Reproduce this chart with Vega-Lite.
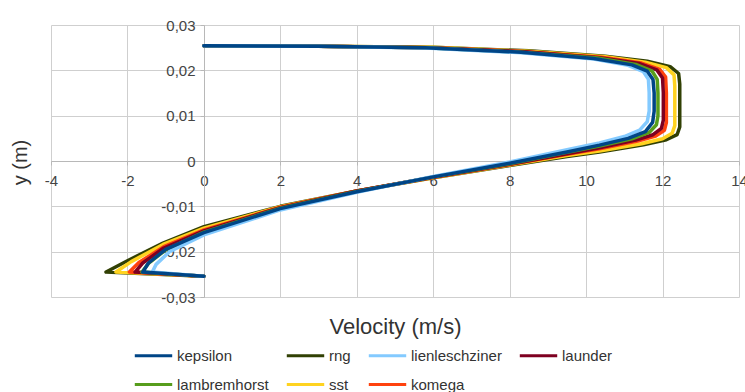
{
  "$schema": "https://vega.github.io/schema/vega-lite/v6.json",
  "autosize": {"type": "none"},
  "width": 688,
  "height": 272,
  "padding": {"left": 51, "top": 25, "right": 6, "bottom": 95},
  "background": "white",
  "config": {
    "font": "Liberation Sans",
    "view": {"stroke": null},
    "axis": {
      "gridColor": "#cfcfcf",
      "gridWidth": 1,
      "domainColor": "#b8b8b8",
      "tickColor": "#b8b8b8",
      "tickSize": 4,
      "labelColor": "#444444",
      "labelFontSize": 15,
      "titleColor": "#333333",
      "titleFontWeight": "normal"
    }
  },
  "data": {
    "values": [
      {"s":"rng","i":1,"x":0,"y":0.0254},{"s":"rng","i":2,"x":3,"y":0.0253},{"s":"rng","i":3,"x":6,"y":0.0251},{"s":"rng","i":4,"x":8.5,"y":0.0243},{"s":"rng","i":5,"x":10.5,"y":0.0231},{"s":"rng","i":6,"x":11.6,"y":0.022},{"s":"rng","i":7,"x":12.2,"y":0.0208},{"s":"rng","i":8,"x":12.42,"y":0.0193},{"s":"rng","i":9,"x":12.45,"y":0.017},{"s":"rng","i":10,"x":12.45,"y":0.0075},{"s":"rng","i":11,"x":12.38,"y":0.0058},{"s":"rng","i":12,"x":12.1,"y":0.0047},{"s":"rng","i":13,"x":11.5,"y":0.0036},{"s":"rng","i":14,"x":10.35,"y":0.002},{"s":"rng","i":15,"x":9.5,"y":0.001},{"s":"rng","i":16,"x":8,"y":-0.001},{"s":"rng","i":17,"x":6,"y":-0.0037},{"s":"rng","i":18,"x":4,"y":-0.0066},{"s":"rng","i":19,"x":2,"y":-0.01},{"s":"rng","i":20,"x":0,"y":-0.0145},{"s":"rng","i":21,"x":-1.07,"y":-0.0181},{"s":"rng","i":22,"x":-2.0,"y":-0.022},{"s":"rng","i":23,"x":-2.56,"y":-0.0245},{"s":"rng","i":24,"x":0,"y":-0.0254},
      {"s":"sst","i":1,"x":0,"y":0.0254},{"s":"sst","i":2,"x":3,"y":0.0253},{"s":"sst","i":3,"x":6,"y":0.0251},{"s":"sst","i":4,"x":8.5,"y":0.0242},{"s":"sst","i":5,"x":10.5,"y":0.023},{"s":"sst","i":6,"x":11.55,"y":0.0218},{"s":"sst","i":7,"x":12.1,"y":0.0206},{"s":"sst","i":8,"x":12.3,"y":0.019},{"s":"sst","i":9,"x":12.32,"y":0.0165},{"s":"sst","i":10,"x":12.32,"y":0.0078},{"s":"sst","i":11,"x":12.25,"y":0.0061},{"s":"sst","i":12,"x":12.0,"y":0.0049},{"s":"sst","i":13,"x":11.45,"y":0.0038},{"s":"sst","i":14,"x":10.35,"y":0.0022},{"s":"sst","i":15,"x":9.5,"y":0.0012},{"s":"sst","i":16,"x":8,"y":-0.0009},{"s":"sst","i":17,"x":6,"y":-0.0037},{"s":"sst","i":18,"x":4,"y":-0.0066},{"s":"sst","i":19,"x":2,"y":-0.0101},{"s":"sst","i":20,"x":0,"y":-0.0148},{"s":"sst","i":21,"x":-1.07,"y":-0.0184},{"s":"sst","i":22,"x":-1.9,"y":-0.0222},{"s":"sst","i":23,"x":-2.3,"y":-0.0245},{"s":"sst","i":24,"x":0,"y":-0.0254},
      {"s":"komega","i":1,"x":0,"y":0.0254},{"s":"komega","i":2,"x":3,"y":0.0253},{"s":"komega","i":3,"x":5.9,"y":0.025},{"s":"komega","i":4,"x":8.4,"y":0.0241},{"s":"komega","i":5,"x":10.4,"y":0.0229},{"s":"komega","i":6,"x":11.45,"y":0.0216},{"s":"komega","i":7,"x":11.93,"y":0.0202},{"s":"komega","i":8,"x":12.08,"y":0.0185},{"s":"komega","i":9,"x":12.1,"y":0.015},{"s":"komega","i":10,"x":12.1,"y":0.0085},{"s":"komega","i":11,"x":12.05,"y":0.0068},{"s":"komega","i":12,"x":11.82,"y":0.0055},{"s":"komega","i":13,"x":11.35,"y":0.0044},{"s":"komega","i":14,"x":10.35,"y":0.0027},{"s":"komega","i":15,"x":9.5,"y":0.0015},{"s":"komega","i":16,"x":8,"y":-0.0008},{"s":"komega","i":17,"x":6,"y":-0.0036},{"s":"komega","i":18,"x":4,"y":-0.0066},{"s":"komega","i":19,"x":2,"y":-0.0102},{"s":"komega","i":20,"x":0,"y":-0.0152},{"s":"komega","i":21,"x":-1.05,"y":-0.0189},{"s":"komega","i":22,"x":-1.7,"y":-0.0224},{"s":"komega","i":23,"x":-1.95,"y":-0.0245},{"s":"komega","i":24,"x":0,"y":-0.0254},
      {"s":"launder","i":1,"x":0,"y":0.0254},{"s":"launder","i":2,"x":3,"y":0.0253},{"s":"launder","i":3,"x":5.9,"y":0.025},{"s":"launder","i":4,"x":8.4,"y":0.0241},{"s":"launder","i":5,"x":10.35,"y":0.0228},{"s":"launder","i":6,"x":11.4,"y":0.0215},{"s":"launder","i":7,"x":11.85,"y":0.0201},{"s":"launder","i":8,"x":12.0,"y":0.0183},{"s":"launder","i":9,"x":12.02,"y":0.015},{"s":"launder","i":10,"x":12.02,"y":0.009},{"s":"launder","i":11,"x":11.97,"y":0.0072},{"s":"launder","i":12,"x":11.75,"y":0.0058},{"s":"launder","i":13,"x":11.3,"y":0.0046},{"s":"launder","i":14,"x":10.35,"y":0.0029},{"s":"launder","i":15,"x":9.5,"y":0.0016},{"s":"launder","i":16,"x":8,"y":-0.0007},{"s":"launder","i":17,"x":6,"y":-0.0036},{"s":"launder","i":18,"x":4,"y":-0.0066},{"s":"launder","i":19,"x":2,"y":-0.0103},{"s":"launder","i":20,"x":0,"y":-0.0154},{"s":"launder","i":21,"x":-1.05,"y":-0.0192},{"s":"launder","i":22,"x":-1.6,"y":-0.0225},{"s":"launder","i":23,"x":-1.8,"y":-0.0245},{"s":"launder","i":24,"x":0,"y":-0.0254},
      {"s":"lambremhorst","i":1,"x":0,"y":0.0254},{"s":"lambremhorst","i":2,"x":3,"y":0.0253},{"s":"lambremhorst","i":3,"x":5.8,"y":0.025},{"s":"lambremhorst","i":4,"x":8.3,"y":0.024},{"s":"lambremhorst","i":5,"x":10.3,"y":0.0227},{"s":"lambremhorst","i":6,"x":11.3,"y":0.0213},{"s":"lambremhorst","i":7,"x":11.72,"y":0.0199},{"s":"lambremhorst","i":8,"x":11.86,"y":0.018},{"s":"lambremhorst","i":9,"x":11.88,"y":0.015},{"s":"lambremhorst","i":10,"x":11.88,"y":0.01},{"s":"lambremhorst","i":11,"x":11.84,"y":0.008},{"s":"lambremhorst","i":12,"x":11.65,"y":0.0063},{"s":"lambremhorst","i":13,"x":11.2,"y":0.0049},{"s":"lambremhorst","i":14,"x":10.35,"y":0.0033},{"s":"lambremhorst","i":15,"x":9.5,"y":0.0019},{"s":"lambremhorst","i":16,"x":8,"y":-0.0006},{"s":"lambremhorst","i":17,"x":6,"y":-0.0035},{"s":"lambremhorst","i":18,"x":4,"y":-0.0067},{"s":"lambremhorst","i":19,"x":2,"y":-0.0104},{"s":"lambremhorst","i":20,"x":0,"y":-0.0157},{"s":"lambremhorst","i":21,"x":-1.0,"y":-0.0196},{"s":"lambremhorst","i":22,"x":-1.45,"y":-0.0226},{"s":"lambremhorst","i":23,"x":-1.62,"y":-0.0245},{"s":"lambremhorst","i":24,"x":0,"y":-0.0254},
      {"s":"lienleschziner","i":1,"x":0,"y":0.0254},{"s":"lienleschziner","i":2,"x":3,"y":0.0253},{"s":"lienleschziner","i":3,"x":5.8,"y":0.0249},{"s":"lienleschziner","i":4,"x":8.3,"y":0.0239},{"s":"lienleschziner","i":5,"x":10.2,"y":0.0225},{"s":"lienleschziner","i":6,"x":11.1,"y":0.0211},{"s":"lienleschziner","i":7,"x":11.5,"y":0.0197},{"s":"lienleschziner","i":8,"x":11.63,"y":0.018},{"s":"lienleschziner","i":9,"x":11.65,"y":0.015},{"s":"lienleschziner","i":10,"x":11.65,"y":0.011},{"s":"lienleschziner","i":11,"x":11.6,"y":0.0087},{"s":"lienleschziner","i":12,"x":11.4,"y":0.0068},{"s":"lienleschziner","i":13,"x":11.0,"y":0.0054},{"s":"lienleschziner","i":14,"x":10.35,"y":0.004},{"s":"lienleschziner","i":15,"x":9.5,"y":0.0025},{"s":"lienleschziner","i":16,"x":8,"y":-0.0002},{"s":"lienleschziner","i":17,"x":6,"y":-0.0034},{"s":"lienleschziner","i":18,"x":4,"y":-0.0069},{"s":"lienleschziner","i":19,"x":2,"y":-0.0108},{"s":"lienleschziner","i":20,"x":0,"y":-0.0163},{"s":"lienleschziner","i":21,"x":-0.9,"y":-0.02},{"s":"lienleschziner","i":22,"x":-1.25,"y":-0.0228},{"s":"lienleschziner","i":23,"x":-1.35,"y":-0.0245},{"s":"lienleschziner","i":24,"x":0,"y":-0.0254},
      {"s":"kepsilon","i":1,"x":0,"y":0.0254},{"s":"kepsilon","i":2,"x":3,"y":0.0253},{"s":"kepsilon","i":3,"x":5.8,"y":0.025},{"s":"kepsilon","i":4,"x":8.3,"y":0.024},{"s":"kepsilon","i":5,"x":10.2,"y":0.0226},{"s":"kepsilon","i":6,"x":11.2,"y":0.0212},{"s":"kepsilon","i":7,"x":11.6,"y":0.0198},{"s":"kepsilon","i":8,"x":11.75,"y":0.018},{"s":"kepsilon","i":9,"x":11.78,"y":0.015},{"s":"kepsilon","i":10,"x":11.78,"y":0.011},{"s":"kepsilon","i":11,"x":11.74,"y":0.0085},{"s":"kepsilon","i":12,"x":11.55,"y":0.0065},{"s":"kepsilon","i":13,"x":11.1,"y":0.005},{"s":"kepsilon","i":14,"x":10.35,"y":0.0035},{"s":"kepsilon","i":15,"x":9.5,"y":0.002},{"s":"kepsilon","i":16,"x":8,"y":-0.0005},{"s":"kepsilon","i":17,"x":6,"y":-0.0035},{"s":"kepsilon","i":18,"x":4,"y":-0.0068},{"s":"kepsilon","i":19,"x":2,"y":-0.0105},{"s":"kepsilon","i":20,"x":0,"y":-0.0158},{"s":"kepsilon","i":21,"x":-1.0,"y":-0.0195},{"s":"kepsilon","i":22,"x":-1.45,"y":-0.0225},{"s":"kepsilon","i":23,"x":-1.6,"y":-0.0245},{"s":"kepsilon","i":24,"x":0,"y":-0.0254}
    ]
  },
  "mark": {"type": "line", "strokeWidth": 3.5, "strokeJoin": "round", "strokeCap": "round"},
  "encoding": {
    "x": {
      "field": "x", "type": "quantitative",
      "scale": {"domain": [-4, 14], "nice": false, "zero": false},
      "axis": {
        "values": [-4, -2, 0, 2, 4, 6, 8, 10, 12, 14],
        "offset": -136,
        "labelExpr": "'' + datum.value",
        "labelPadding": 8,
        "title": "Velocity (m/s)",
        "titleFontSize": 22,
        "titleY": 172,
        "titleBaseline": "alphabetic",
        "labelFlush": false
      }
    },
    "y": {
      "field": "y", "type": "quantitative",
      "scale": {"domain": [-0.03, 0.03], "nice": false, "zero": false},
      "axis": {
        "values": [-0.03, -0.02, -0.01, 0, 0.01, 0.02, 0.03],
        "offset": -153,
        "labelExpr": "datum.value == 0 ? '0' : replace(replace(format(datum.value, '.2f'), '.', ','), '\u2212', '-')",
        "labelPadding": 5,
        "labelFlush": false,
        "title": "y (m)",
        "titleFontSize": 20,
        "titleX": -184,
        "titleY": 137,
        "titleAngle": -90,
        "titleAlign": "center",
        "titleBaseline": "middle"
      }
    },
    "color": {
      "field": "s", "type": "nominal",
      "scale": {
        "domain": ["kepsilon", "rng", "lienleschziner", "launder", "lambremhorst", "sst", "komega"],
        "range": ["#004586", "#314004", "#83caff", "#7e0021", "#579d1c", "#ffd320", "#ff420e"]
      },
      "legend": {
        "orient": "none",
        "legendX": 82,
        "legendY": 310,
        "direction": "horizontal",
        "columns": 4,
        "title": null,
        "symbolType": "stroke",
        "symbolSize": 1400,
        "symbolStrokeWidth": 3,
        "labelFontSize": 15,
        "labelColor": "#333333",
        "labelOffset": 3,
        "columnPadding": 11,
        "rowPadding": -22
      }
    },
    "order": {"field": "i", "type": "quantitative"}
  }
}
